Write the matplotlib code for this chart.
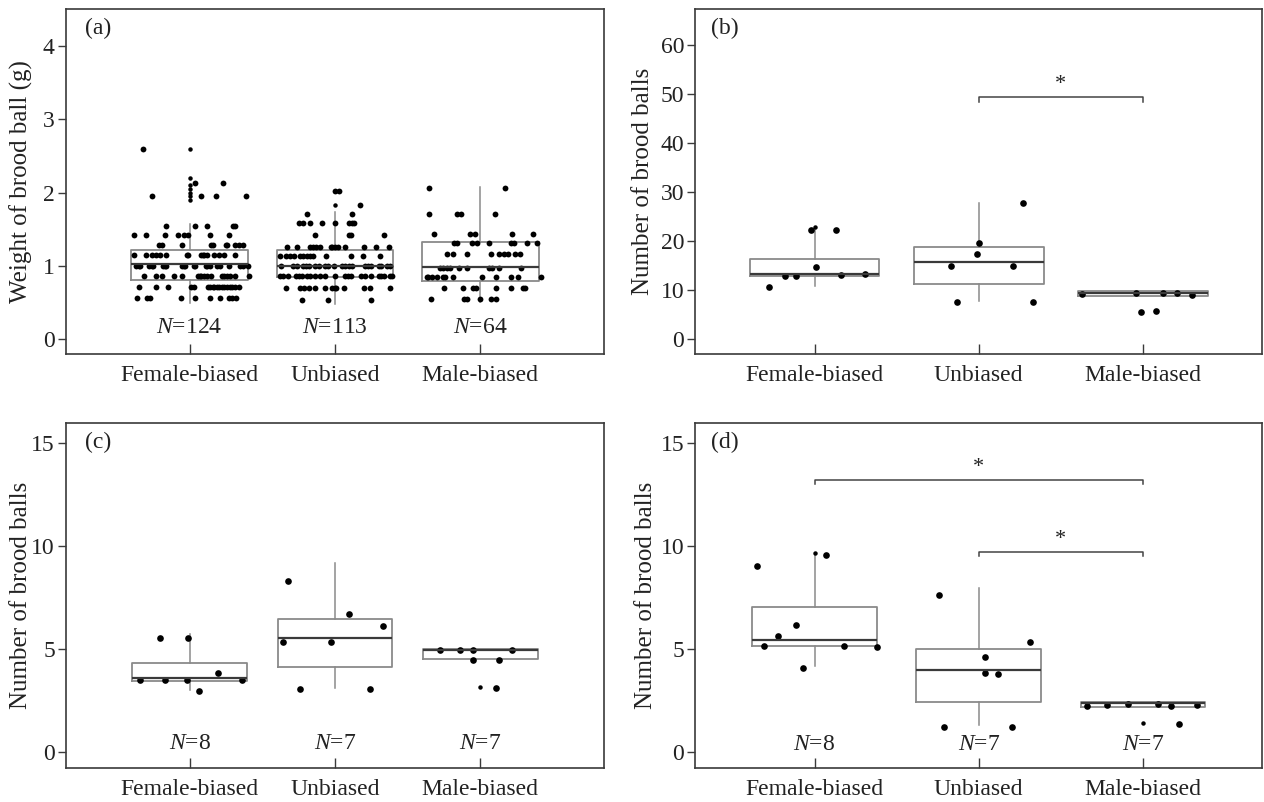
import matplotlib
matplotlib.use("Agg")
import matplotlib.pyplot as plt
import numpy as np

plt.rcParams['font.family'] = ['Liberation Serif', 'DejaVu Serif']
plt.rcParams['mathtext.fontset'] = 'custom'
plt.rcParams['mathtext.it'] = 'Liberation Serif:italic'
plt.rcParams['mathtext.rm'] = 'Liberation Serif'

cats = ['Female-biased', 'Unbiased', 'Male-biased']

# ---- panel (a): brood ball weight, jittered points by weight level ----
a_female = {2.6: [-0.32], 2.13: [0.04, 0.23],
            1.96: [-0.26, 0.08, 0.18, 0.39],
            1.55: [-0.16, 0.04, 0.12, 0.30, 0.31],
            1.42: [-0.38, -0.30, -0.17, -0.08, -0.04, -0.01, 0.14, 0.27],
            1.28: [-0.21, -0.19, -0.05, 0.15, 0.16, 0.25, 0.26, 0.31, 0.34, 0.37],
            1.15: [-0.38, -0.30, -0.26, -0.23, -0.20, -0.16, -0.02, -0.01, 0.08, 0.09,
                   0.10, 0.12, 0.17, 0.20, 0.24, 0.31],
            1.0: [-0.37, -0.35, -0.34, -0.28, -0.26, -0.25, -0.18, -0.17, -0.16, -0.05,
                  -0.04, -0.03, 0.03, 0.04, 0.11, 0.12, 0.14, 0.19, 0.21, 0.27, 0.35,
                  0.37, 0.40],
            0.86: [-0.31, -0.23, -0.19, -0.11, -0.05, 0.06, 0.07, 0.08, 0.10, 0.12,
                   0.15, 0.22, 0.24, 0.26, 0.28, 0.31, 0.41],
            0.72: [-0.35, -0.23, -0.15, 0.01, 0.03, 0.13, 0.14, 0.16, 0.17, 0.19, 0.20,
                   0.22, 0.24, 0.26, 0.28, 0.29, 0.31, 0.34],
            0.56: [-0.36, -0.29, -0.27, -0.06, 0.04, 0.14, 0.21, 0.27, 0.29, 0.32]}
a_unbiased = {2.02: [0.00, 0.03], 1.83: [0.17], 1.71: [-0.19, 0.12],
              1.58: [-0.25, -0.22, -0.17, -0.09, 0.00, 0.10, 0.12, 0.13],
              1.42: [-0.14, 0.10, 0.11, 0.34],
              1.26: [-0.33, -0.26, -0.17, -0.15, -0.13, -0.10, -0.03, -0.02, 0.00, 0.02,
                     0.07, 0.20, 0.28, 0.37],
              1.13: [-0.38, -0.34, -0.31, -0.28, -0.24, -0.22, -0.19, -0.17, -0.15, -0.06,
                     0.11, 0.19, 0.31],
              1.0: [-0.37, -0.29, -0.26, -0.22, -0.20, -0.18, -0.14, -0.11, -0.07, -0.05,
                    -0.01, 0.05, 0.07, 0.10, 0.12, 0.21, 0.23, 0.25, 0.30, 0.32, 0.36, 0.38],
              0.86: [-0.38, -0.36, -0.32, -0.27, -0.25, -0.23, -0.19, -0.17, -0.14, -0.10,
                     -0.07, 0.00, 0.07, 0.09, 0.11, 0.18, 0.21, 0.25, 0.30, 0.32, 0.34,
                     0.38, 0.39],
              0.70: [-0.34, -0.24, -0.21, -0.18, -0.14, -0.07, -0.02, 0.00, 0.01, 0.06,
                     0.20, 0.24, 0.38],
              0.53: [-0.23, -0.05, 0.25]}
a_male = {2.07: [-0.35, 0.17], 1.71: [-0.35, -0.16, -0.13, 0.10],
          1.44: [-0.32, -0.07, -0.04, 0.22, 0.36],
          1.32: [-0.18, -0.16, -0.06, -0.02, 0.06, 0.21, 0.23, 0.32, 0.39],
          1.17: [-0.23, -0.19, -0.09, 0.07, 0.13, 0.16, 0.19, 0.24, 0.27],
          0.97: [-0.28, -0.26, -0.23, -0.21, -0.15, -0.09, 0.06, 0.08, 0.13, 0.28],
          0.85: [-0.37, -0.36, -0.33, -0.30, -0.26, -0.24, -0.19, 0.01, 0.11, 0.21,
                 0.26, 0.42],
          0.70: [-0.25, -0.12, -0.05, -0.03, 0.11, 0.21, 0.29, 0.31],
          0.55: [-0.34, -0.11, -0.09, 0.00, 0.07, 0.11]}
a_q1 = [0.81, 0.85, 0.80]
a_med = [1.03, 1.00, 0.99]
a_q3 = [1.22, 1.22, 1.33]
a_lo = [0.50, 0.48, 0.51]
a_hi = [1.57, 1.74, 2.08]
a_fliers = [[2.6, 2.2, 2.1, 2.05, 2.0, 1.96, 1.9], [2.02, 1.83], []]
a_n = ['124', '113', '64']

# ---- panel (b) ----
b_y = [[10.5, 12.8, 12.9, 22.2, 14.7, 22.2, 13.0, 13.2],
       [7.6, 14.9, 17.4, 19.5, 14.9, 27.7, 7.6],
       [9.1, 9.3, 5.5, 5.65, 9.3, 9.3, 8.9]]
b_dx = [[-0.275, -0.18, -0.11, -0.02, 0.01, 0.13, 0.16, 0.31],
        [-0.13, -0.17, -0.01, 0.0, 0.21, 0.27, 0.33],
        [-0.37, -0.04, -0.01, 0.08, 0.12, 0.21, 0.30]]
b_q1 = [12.8, 11.2, 8.7]
b_med = [13.2, 15.7, 9.3]
b_q3 = [16.4, 18.7, 9.8]
b_lo = [10.8, 7.8, 8.7]
b_hi = [22.2, 27.8, 9.8]
b_fliers = [[22.75], [], []]
b_brackets = [(2, 3, 49.3)]

# ---- panel (c) ----
c_y = [[3.51, 5.55, 3.51, 3.51, 5.55, 2.94, 3.83, 3.51],
       [8.3, 5.34, 3.03, 5.34, 6.68, 3.03, 6.1],
       [4.94, 4.94, 4.94, 4.45, 4.45, 4.94, 3.12]]
c_dx = [[-0.34, -0.20, -0.17, -0.02, -0.01, 0.065, 0.195, 0.36],
        [-0.32, -0.36, -0.24, -0.03, 0.10, 0.24, 0.33],
        [-0.28, -0.14, -0.05, -0.05, 0.13, 0.22, 0.11]]
c_q1 = [3.43, 4.13, 4.53]
c_med = [3.59, 5.52, 4.96]
c_q3 = [4.29, 6.44, 4.98]
c_lo = [2.99, 3.12, 4.53]
c_hi = [5.74, 9.17, 4.98]
c_fliers = [[], [], [3.15]]
c_n = ['8', '7', '7']

# ---- panel (d) ----
d_y = [[9.01, 5.16, 5.63, 6.18, 4.07, 9.55, 5.16, 5.11],
       [7.6, 1.22, 4.62, 3.81, 3.77, 1.2, 5.32],
       [2.21, 2.28, 2.31, 2.31, 2.21, 2.26, 1.33]]
d_dx = [[-0.35, -0.31, -0.225, -0.11, -0.07, 0.07, 0.18, 0.38],
        [-0.24, -0.21, 0.04, 0.04, 0.12, 0.20, 0.31],
        [-0.34, -0.22, -0.09, 0.09, 0.17, 0.33, 0.22]]
d_q1 = [5.16, 2.44, 2.18]
d_med = [5.42, 3.99, 2.39]
d_q3 = [7.03, 4.99, 2.44]
d_lo = [4.15, 1.30, 2.18]
d_hi = [9.63, 7.97, 2.44]
d_fliers = [[9.66], [], [1.42]]
d_n = ['8', '7', '7']
d_brackets = [(1, 3, 13.21), (2, 3, 9.71)]

BOXC = '#8a8a8a'
MEDC = '#3a3a3a'
SPC = '#3a3a3a'
TXT = '#222222'

fig = plt.figure(figsize=(12.64, 8.02), dpi=100)
ax_a = fig.add_axes([0.0522, 0.5586, 0.4256, 0.4298])
ax_b = fig.add_axes([0.5502, 0.5586, 0.4482, 0.4298])
ax_c = fig.add_axes([0.0522, 0.0420, 0.4256, 0.4302])
ax_d = fig.add_axes([0.5502, 0.0420, 0.4482, 0.4302])


def draw_box(ax, q1, med, q3, lo, hi, fliers, width):
    stats = []
    for i in range(3):
        stats.append(dict(q1=q1[i], med=med[i], q3=q3[i], whislo=lo[i], whishi=hi[i],
                          fliers=np.array(fliers[i])))
    ax.bxp(stats, positions=[1, 2, 3], widths=width, showcaps=False,
           boxprops=dict(color=BOXC, linewidth=1.3),
           whiskerprops=dict(color=BOXC, linewidth=1.1),
           medianprops=dict(color=MEDC, linewidth=1.6),
           flierprops=dict(marker='o', markersize=2.2, markerfacecolor='black',
                           markeredgecolor='black', linestyle='none'),
           manage_ticks=False)


def style(ax, xlim, ylim, yticks, label, labelx, tag, tagx):
    ax.set_xlim(*xlim)
    ax.set_ylim(*ylim)
    ax.set_xticks([1, 2, 3])
    ax.set_xticklabels(cats)
    ax.set_yticks(yticks)
    ax.tick_params(axis='x', direction='in', length=7, width=1, color=SPC,
                   labelsize=17, pad=8, labelcolor=TXT)
    ax.tick_params(axis='y', direction='out', length=6, width=1, color=SPC,
                   labelsize=17, pad=2, labelcolor=TXT)
    for s in ax.spines.values():
        s.set_color(SPC)
        s.set_linewidth(1.2)
    ax.set_ylabel(label, fontsize=18, color=TXT)
    ax.yaxis.set_label_coords(labelx, 0.5)
    ax.text(tagx, 0.975, tag, transform=ax.transAxes, ha='left', va='top',
            fontsize=17, color=TXT)


def bracket(ax, pairs, tick, starpad):
    for x1, x2, h in pairs:
        ax.plot([x1, x1, x2, x2], [h - tick, h, h, h - tick], color='#444444', lw=1.1)
        ax.text((x1 + x2) / 2, h + starpad, '*', ha='center', va='bottom',
                fontsize=16, color=TXT)


# (a)
draw_box(ax_a, a_q1, a_med, a_q3, a_lo, a_hi, a_fliers, 0.80)
for i, grp in enumerate([a_female, a_unbiased, a_male]):
    for level, offs in grp.items():
        xs = [i + 1 + o for o in offs]
        ax_a.plot(xs, [level] * len(offs), 'o', color='black', markersize=4.2, mec='none')
for i, n in enumerate(a_n):
    ax_a.text(i + 1, 0.16, r'$N$=' + n, ha='center', va='center', fontsize=17,
              color=TXT)
style(ax_a, (0.15, 3.85), (-0.2, 4.5), [0, 1, 2, 3, 4], 'Weight of brood ball (g)',
      -0.061, '(a)', 0.035)

# (b)
draw_box(ax_b, b_q1, b_med, b_q3, b_lo, b_hi, b_fliers, 0.79)
for i in range(3):
    ax_b.plot([i + 1 + o for o in b_dx[i]], b_y[i], 'o', color='black', markersize=4.8,
              mec='none')
bracket(ax_b, b_brackets, 0.9, 0.6)
style(ax_b, (0.275, 3.725), (-3.1, 67.3), [0, 10, 20, 30, 40, 50, 60],
      'Number of brood balls', -0.074, '(b)', 0.027)

# (c)
draw_box(ax_c, c_q1, c_med, c_q3, c_lo, c_hi, c_fliers, 0.79)
for i in range(3):
    ax_c.plot([i + 1 + o for o in c_dx[i]], c_y[i], 'o', color='black', markersize=4.8,
              mec='none')
for i, n in enumerate(c_n):
    ax_c.text(i + 1, 0.40, r'$N$=' + n, ha='center', va='center', fontsize=17,
              color=TXT)
style(ax_c, (0.15, 3.85), (-0.8, 15.95), [0, 5, 10, 15], 'Number of brood balls',
      -0.064, '(c)', 0.035)

# (d)
draw_box(ax_d, d_q1, d_med, d_q3, d_lo, d_hi, d_fliers, 0.76)
for i in range(3):
    ax_d.plot([i + 1 + o for o in d_dx[i]], d_y[i], 'o', color='black', markersize=4.8,
              mec='none')
for i, n in enumerate(d_n):
    ax_d.text(i + 1, 0.36, r'$N$=' + n, ha='center', va='center', fontsize=17,
              color=TXT)
bracket(ax_d, d_brackets, 0.2, 0.12)
style(ax_d, (0.275, 3.725), (-0.8, 15.95), [0, 5, 10, 15], 'Number of brood balls',
      -0.068, '(d)', 0.027)

fig.savefig('out.png', dpi=100)
